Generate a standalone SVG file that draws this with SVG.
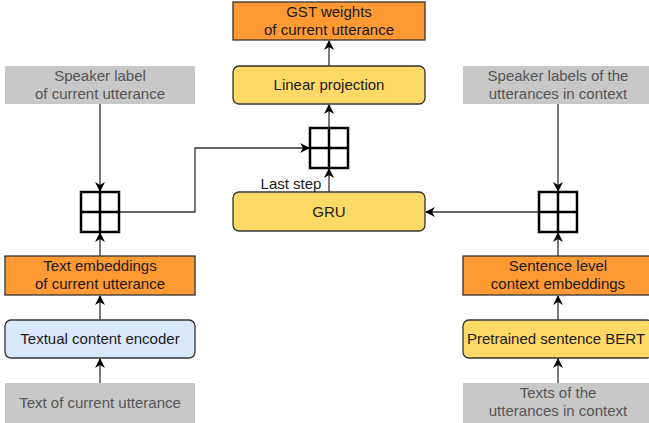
<svg xmlns="http://www.w3.org/2000/svg" width="649" height="423" viewBox="0 0 649 423">
<defs>
<style>
.t{font-family:"Liberation Sans",Arial,sans-serif;font-size:15px;text-anchor:middle;fill:#1a1a1a}
.g{fill:#555555}
.gray{fill:#c8c8c8;stroke:none}
.org{fill:#ff9933;stroke:#333333;stroke-width:1.3}
.yel{fill:#ffd966;stroke:#333333;stroke-width:1.3}
.blu{fill:#dae8fc;stroke:#333333;stroke-width:1.3}
.grid{fill:#ffffff;stroke:#000000;stroke-width:2.5}
.c{fill:none;stroke:#333333;stroke-width:1.3}
</style>
<marker id="ah" viewBox="0 0 10 10" refX="9" refY="5" markerWidth="10" markerHeight="10" markerUnits="userSpaceOnUse" orient="auto">
<path d="M0,0 L10,5 L0,10 L3,5 Z" fill="#000000"/>
</marker>
</defs>
<g id="connectors">
<path class="c" d="M100,104 V191" marker-end="url(#ah)"/>
<path class="c" d="M100,256 V233" marker-end="url(#ah)"/>
<path class="c" d="M100,320 V296" marker-end="url(#ah)"/>
<path class="c" d="M100,383 V359" marker-end="url(#ah)"/>
<path class="c" d="M120,212 H195 V148 H309" marker-end="url(#ah)"/>
<path class="c" d="M329,192 V169" marker-end="url(#ah)"/>
<path class="c" d="M329,128 V105" marker-end="url(#ah)"/>
<path class="c" d="M329,66 V41" marker-end="url(#ah)"/>
<path class="c" d="M558,104 V191" marker-end="url(#ah)"/>
<path class="c" d="M538,212 H426" marker-end="url(#ah)"/>
<path class="c" d="M558,256 V233" marker-end="url(#ah)"/>
<path class="c" d="M558,320 V296" marker-end="url(#ah)"/>
<path class="c" d="M558,383 V359" marker-end="url(#ah)"/>
</g>
<g id="gst"><rect class="org" x="233" y="2" width="192" height="38"/><text class="t" x="329" y="17">GST weights</text><text class="t" x="329" y="35">of current utterance</text></g>
<g id="linear"><rect class="yel" x="233" y="66" width="192" height="38" rx="6"/><text class="t" x="329" y="90">Linear projection</text></g>
<g id="concat-center"><rect class="grid" x="310" y="128" width="38" height="40"/><path class="grid" d="M329,128 V168 M310,148 H348"/></g>
<g id="last-step"><text class="t" x="291" y="189">Last step</text></g>
<g id="gru"><rect class="yel" x="233" y="192" width="192" height="39" rx="6"/><text class="t" x="329" y="217">GRU</text></g>
<g id="speaker-current"><rect class="gray" x="5" y="66" width="190" height="38"/><text class="t g" x="100" y="81">Speaker label</text><text class="t g" x="100" y="99">of current utterance</text></g>
<g id="concat-left"><rect class="grid" x="81" y="192" width="38" height="40"/><path class="grid" d="M100,192 V232 M81,212 H119"/></g>
<g id="text-emb"><rect class="org" x="5" y="256" width="190" height="39"/><text class="t" x="100" y="271">Text embeddings</text><text class="t" x="100" y="289">of current utterance</text></g>
<g id="encoder"><rect class="blu" x="5" y="320" width="190" height="38" rx="6"/><text class="t" x="100" y="344">Textual content encoder</text></g>
<g id="text-current"><rect class="gray" x="5" y="383" width="190" height="40"/><text class="t g" x="100" y="408">Text of current utterance</text></g>
<g id="speaker-context"><rect class="gray" x="463" y="66" width="190" height="38"/><text class="t g" x="558" y="81">Speaker labels of the</text><text class="t g" x="558" y="99">utterances in context</text></g>
<g id="concat-right"><rect class="grid" x="539" y="192" width="38" height="40"/><path class="grid" d="M558,192 V232 M539,212 H577"/></g>
<g id="sent-emb"><rect class="org" x="463" y="256" width="190" height="39"/><text class="t" x="558" y="271">Sentence level</text><text class="t" x="558" y="289">context embeddings</text></g>
<g id="bert"><rect class="yel" x="463" y="320" width="190" height="38" rx="6"/><text class="t" x="556" y="344">Pretrained sentence BERT</text></g>
<g id="texts-context"><rect class="gray" x="463" y="383" width="190" height="40"/><text class="t g" x="558" y="398">Texts of the</text><text class="t g" x="558" y="416">utterances in context</text></g>
</svg>
